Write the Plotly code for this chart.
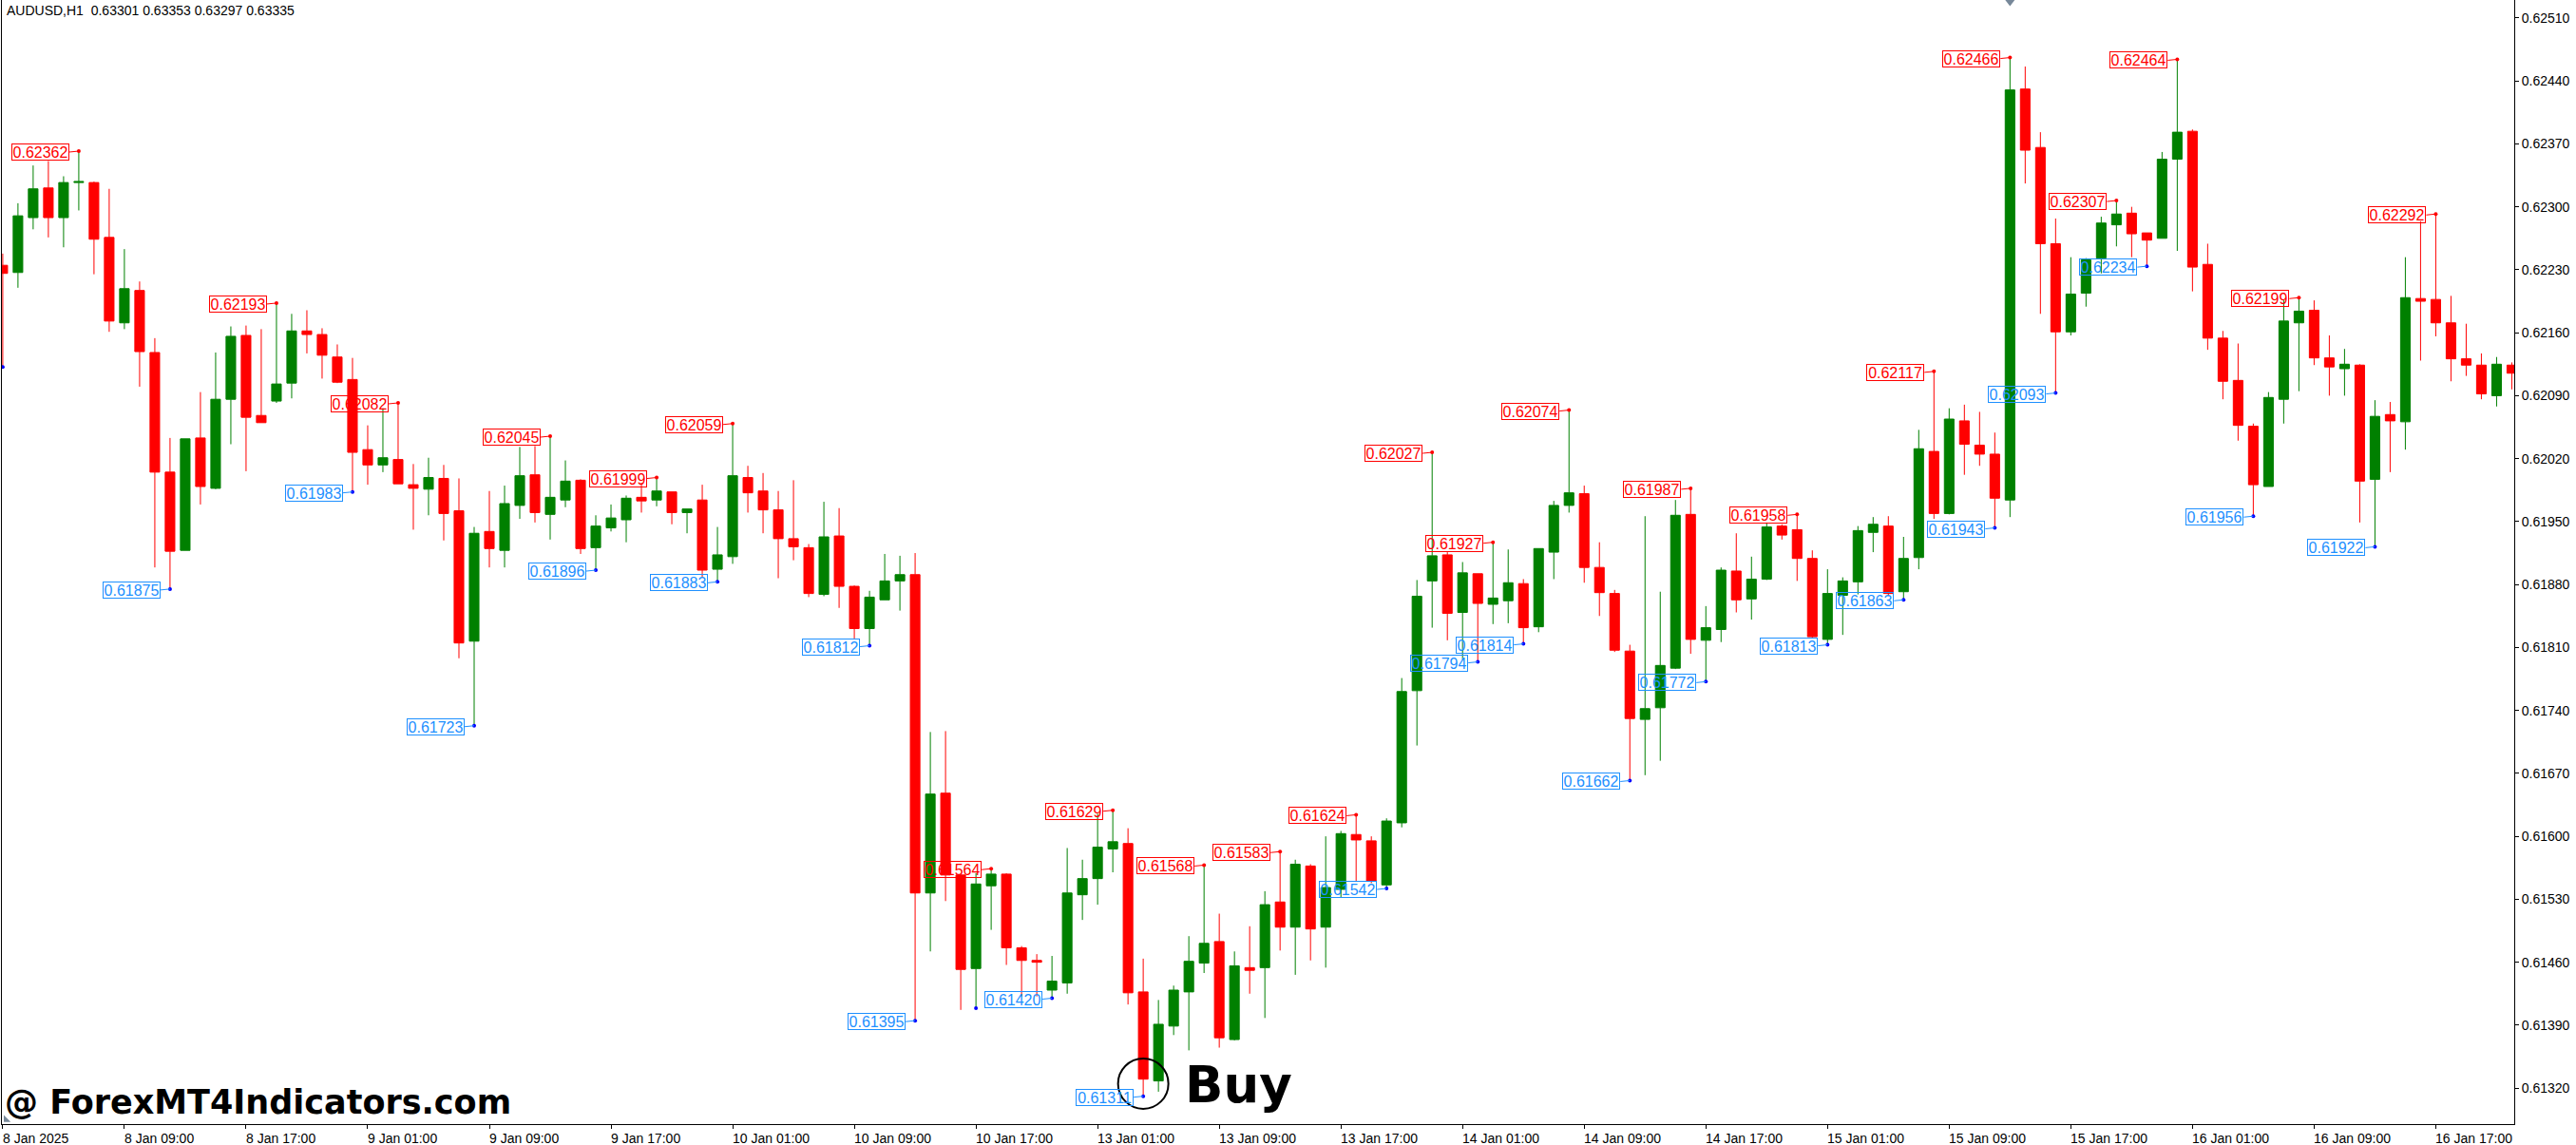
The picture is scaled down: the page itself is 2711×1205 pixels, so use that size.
import plotly.graph_objects as go

# H1 candles, in 1/100000 of a price unit
opens = [62235, 62227, 62288, 62321, 62288, 62327, 62327, 62266, 62171, 62207, 62138, 62005, 61918, 62043, 61987, 62086,
         62157, 62068, 62084, 62104, 62162, 62158, 62133, 62108, 62030, 62013, 62019, 61991, 61986, 61998, 61962, 61817,
         61939, 61918, 61968, 62002, 61958, 61974, 61996, 61921, 61943, 61952, 61977, 61974, 61983, 61960, 61974, 61897,
         61911, 61999, 61984, 61963, 61931, 61921, 61869, 61934, 61878, 61831, 61863, 61884, 61891, 61537, 61648, 61557,
         61453, 61545, 61558, 61476, 61462, 61429, 61437, 61535, 61553, 61586, 61592, 61427, 61328, 61389, 61427, 61459,
         61483, 61374, 61454, 61454, 61527, 61499, 61567, 61499, 61541, 61602, 61595, 61546, 61615, 61762, 61884, 61913,
         61849, 61892, 61858, 61862, 61881, 61833, 61916, 61968, 61981, 61899, 61870, 61806, 61730, 61743, 61787, 61958,
         61818, 61830, 61895, 61864, 61886, 61945, 61941, 61909, 61819, 61868, 61883, 61938, 61945, 61872, 61910, 62028,
         61959, 62062, 62035, 62025, 61974, 62431, 62366, 62259, 62161, 62204, 62243, 62280, 62293, 62271, 62265, 62353,
         62384, 62236, 62154, 62107, 62056, 61989, 62086, 62171, 62185, 62132, 62120, 62124, 61997, 62069, 62061, 62198,
         62197, 62171, 62131, 62124, 62090, 62124]
highs = [62248, 62304, 62346, 62351, 62334, 62362, 62328, 62320, 62253, 62217, 62154, 62043, 62042, 62094, 62138, 62167,
         62168, 62164, 62193, 62181, 62185, 62165, 62147, 62132, 62057, 62076, 62082, 62014, 62021, 62013, 61998, 61944,
         61984, 61990, 62033, 62034, 62045, 62018, 61997, 61957, 61969, 61979, 61993, 61999, 61983, 61964, 61991, 61944,
         62059, 62012, 62004, 61984, 61996, 61925, 61972, 61965, 61879, 61873, 61914, 61912, 61915, 61716, 61717, 61558,
         61559, 61564, 61559, 61478, 61469, 61467, 61587, 61574, 61625, 61629, 61609, 61464, 61418, 61434, 61489, 61568,
         61514, 61472, 61500, 61539, 61583, 61574, 61569, 61600, 61606, 61624, 61600, 61620, 61776, 61885, 62027, 61916,
         61905, 61892, 61927, 61919, 61886, 61920, 61973, 62074, 61990, 61927, 61874, 61813, 61956, 61872, 61974, 61987,
         61856, 61899, 61937, 61911, 61949, 61947, 61958, 61918, 61897, 61888, 61945, 61955, 61956, 61933, 62052, 62117,
         62076, 62080, 62072, 62049, 62466, 62456, 62383, 62287, 62244, 62243, 62289, 62307, 62300, 62271, 62361, 62464,
         62386, 62259, 62162, 62148, 62059, 62094, 62196, 62199, 62196, 62157, 62142, 62125, 62085, 62083, 62244, 62284,
         62292, 62201, 62170, 62137, 62133, 62127]
lows = [62122, 62210, 62275, 62266, 62255, 62296, 62225, 62161, 62164, 62100, 61899, 61875, 61918, 61969, 61986, 62036,
        62006, 62060, 62082, 62087, 62137, 62109, 62104, 61983, 61991, 62005, 61992, 61941, 61957, 61929, 61798, 61723,
        61899, 61899, 61953, 61949, 61930, 61966, 61914, 61896, 61939, 61927, 61960, 61967, 61947, 61937, 61888, 61883,
        61903, 61960, 61937, 61887, 61907, 61866, 61867, 61854, 61820, 61812, 61863, 61851, 61395, 61472, 61528, 61407,
        61409, 61496, 61457, 61422, 61422, 61420, 61425, 61507, 61524, 61560, 61413, 61311, 61316, 61379, 61362, 61448,
        61365, 61373, 61425, 61398, 61473, 61446, 61462, 61454, 61532, 61550, 61548, 61542, 61610, 61701, 61832, 61818,
        61796, 61794, 61836, 61837, 61814, 61827, 61886, 61960, 61882, 61845, 61805, 61662, 61668, 61684, 61786, 61803,
        61772, 61816, 61849, 61841, 61885, 61930, 61884, 61820, 61813, 61824, 61869, 61916, 61867, 61863, 61897, 61953,
        61958, 62002, 62012, 61943, 61955, 62326, 62181, 62093, 62157, 62189, 62226, 62256, 62244, 62234, 62265, 62251,
        62206, 62141, 62086, 62040, 61956, 61989, 62059, 62095, 62124, 62090, 62090, 61949, 61922, 62005, 62030, 62129,
        62156, 62106, 62112, 62086, 62078, 62097]
closes = [62226, 62290, 62320, 62288, 62327, 62328, 62264, 62173, 62209, 62139, 62005, 61917, 62042, 61989, 62086, 62156,
          62066, 62060, 62103, 62162, 62158, 62135, 62105, 62027, 62013, 62021, 61992, 61987, 61999, 61959, 61815, 61937,
          61920, 61970, 62001, 61960, 61977, 61995, 61920, 61945, 61954, 61976, 61973, 61984, 61960, 61964, 61896, 61913,
          62001, 61982, 61963, 61931, 61922, 61870, 61933, 61878, 61831, 61866, 61884, 61891, 61537, 61647, 61557, 61452,
          61547, 61558, 61476, 61462, 61460, 61439, 61537, 61553, 61588, 61594, 61426, 61330, 61391, 61429, 61461, 61481,
          61376, 61456, 61451, 61524, 61499, 61569, 61497, 61543, 61603, 61596, 61550, 61617, 61761, 61867, 61912, 61848,
          61893, 61859, 61865, 61882, 61832, 61920, 61968, 61982, 61899, 61871, 61807, 61731, 61742, 61790, 61957, 61819,
          61832, 61896, 61863, 61886, 61944, 61935, 61909, 61822, 61870, 61884, 61940, 61947, 61870, 61909, 62031, 61959,
          62064, 62036, 62025, 61976, 62430, 62363, 62259, 62161, 62203, 62241, 62282, 62292, 62270, 62263, 62353, 62383,
          62233, 62154, 62106, 62057, 61991, 62088, 62173, 62184, 62132, 62122, 62125, 61995, 62067, 62062, 62199, 62195,
          62171, 62131, 62124, 62092, 62125, 62115]
bars = list(range(len(opens)))

# Swing labels: bar number and price
high_bars = [5, 18, 26, 36, 43, 48, 65, 73, 79, 84, 89, 94, 98, 103, 111, 118, 127, 132, 139, 143, 151, 160]
high_vals = [62362, 62193, 62082, 62045, 61999, 62059, 61564, 61629, 61568, 61583, 61624, 62027, 61927, 62074,
             61987, 61958, 62117, 62466, 62307, 62464, 62199, 62292]
low_bars = [11, 23, 31, 39, 47, 57, 60, 69, 75, 91, 97, 100, 107, 112, 120, 125, 131, 135, 141, 148, 156]
low_vals = [61875, 61983, 61723, 61896, 61883, 61812, 61395, 61420, 61311, 61542, 61794, 61814, 61662, 61772,
            61813, 61863, 61943, 62093, 62234, 61956, 61922]
# Blue dots with no label next to them
extra_low_bars = [0, 64]
extra_low_vals = [62122, 61409]

# Axis labels
time_tick_bars = list(range(0, 161, 8))
time_tick_labels = ['8 Jan 2025', '8 Jan 09:00', '8 Jan 17:00', '9 Jan 01:00', '9 Jan 09:00', '9 Jan 17:00',
                    '10 Jan 01:00', '10 Jan 09:00', '10 Jan 17:00', '13 Jan 01:00', '13 Jan 09:00', '13 Jan 17:00',
                    '14 Jan 01:00', '14 Jan 09:00', '14 Jan 17:00', '15 Jan 01:00', '15 Jan 09:00', '15 Jan 17:00',
                    '16 Jan 01:00', '16 Jan 09:00', '16 Jan 17:00']
price_ticks = [0.62510, 0.62440, 0.62370, 0.62300, 0.62230, 0.62160, 0.62090, 0.62020, 0.61950, 0.61880, 0.61810,
               0.61740, 0.61670, 0.61600, 0.61530, 0.61460, 0.61390, 0.61320]

RED = '#FF0000'
GREEN = '#008000'
BLUE = '#1E90FF'
GRAY = '#778899'
X_RANGE = [-0.056, 165.16]
Y_RANGE = [0.61280, 0.62530]


def price(points):
    return [p / 100000 for p in points]


fig = go.Figure()

fig.add_trace(go.Candlestick(
    x=bars,
    open=price(opens),
    high=price(highs),
    low=price(lows),
    close=price(closes),
    increasing=dict(line=dict(color=GREEN, width=1), fillcolor=GREEN),
    decreasing=dict(line=dict(color=RED, width=1), fillcolor=RED),
    whiskerwidth=0,
    showlegend=False
))

# Swing dots
fig.add_trace(go.Scatter(x=high_bars, y=price(high_vals), mode='markers', showlegend=False,
                         marker=dict(color='#FF0000', size=4)))
fig.add_trace(go.Scatter(x=low_bars + extra_low_bars, y=price(low_vals + extra_low_vals), mode='markers',
                         showlegend=False, marker=dict(color='#0000FF', size=4)))

# Little gray chart markers at the top and in the bottom left corner
fig.add_trace(go.Scatter(x=[132], y=[Y_RANGE[1]], mode='markers', showlegend=False,
                         marker=dict(color=GRAY, size=13, symbol='triangle-down')))
fig.add_trace(go.Scatter(x=[0.22], y=[0.61285], mode='markers', showlegend=False,
                         marker=dict(color=GRAY, size=8, symbol='triangle-sw')))

annotations = []


def swing_label(bar, value, color):
    annotations.append(dict(
        x=bar, y=value / 100000, xref='x', yref='y',
        text=f'{value / 100000:.5f}',
        font=dict(family='Liberation Sans', size=16, color=color),
        showarrow=True, arrowhead=0, arrowwidth=1, arrowcolor=color, standoff=0,
        ax=-10, ay=1, xanchor='right', yanchor='middle',
        bordercolor=color, borderwidth=1, borderpad=0,
        width=59, height=16, align='center'
    ))


for b, v in zip(high_bars, high_vals):
    swing_label(b, v, RED)
for b, v in zip(low_bars, low_vals):
    swing_label(b, v, BLUE)

# Time labels start at their tick instead of being centred on it
for b, label in zip(time_tick_bars, time_tick_labels):
    annotations.append(dict(
        x=b, y=0, xref='x', yref='paper', text=label, showarrow=False,
        xanchor='left', yanchor='top', xshift=-2, yshift=-5,
        font=dict(family='Liberation Sans', size=14, color='black')
    ))

annotations.append(dict(
    x=0, y=1, xref='paper', yref='paper', xanchor='left', yanchor='top', xshift=3, yshift=-1,
    text='AUDUSD,H1\u00a0\u00a00.63301 0.63353 0.63297 0.63335', showarrow=False,
    font=dict(family='Liberation Sans', size=14, color='black')
))
annotations.append(dict(
    x=0, y=0.61320, xref='x', yref='y', xanchor='left', yanchor='middle', yshift=-15,
    text='@ ForexMT4Indicators.com', showarrow=False,
    font=dict(family='DejaVu Sans', size=35, color='black', weight='bold')
))
annotations.append(dict(
    x=77.6, y=0.61320, xref='x', yref='y', xanchor='left', yanchor='middle', yshift=4,
    text='Buy', showarrow=False,
    font=dict(family='DejaVu Sans', size=53, color='black', weight='bold')
))

fig.update_layout(
    width=2711,
    height=1205,
    margin=dict(l=2, r=65, t=0, b=22),
    plot_bgcolor='white',
    paper_bgcolor='white',
    showlegend=False,
    boxgap=0.1,
    annotations=annotations,
    xaxis=dict(
        range=X_RANGE,
        rangeslider=dict(visible=False),
        showgrid=False,
        zeroline=False,
        showline=True,
        linecolor='black',
        linewidth=1,
        tickmode='array',
        tickvals=time_tick_bars,
        showticklabels=False,
        ticks='outside',
        ticklen=4,
        tickcolor='black'
    ),
    yaxis=dict(
        range=Y_RANGE,
        side='right',
        showgrid=False,
        zeroline=False,
        showline=True,
        mirror=True,
        linecolor='black',
        linewidth=1,
        tickmode='array',
        tickvals=price_ticks,
        tickformat='.5f',
        ticks='outside',
        ticklen=4,
        tickcolor='black',
        tickfont=dict(family='Liberation Sans', size=14, color='black')
    ),
    # Circle round the buy candle
    shapes=[dict(
        type='circle', xref='x', yref='y', xsizemode='pixel', ysizemode='pixel',
        xanchor=75, yanchor=0.61325, x0=-26.5, x1=26.5, y0=-26.5, y1=26.5,
        line=dict(color='black', width=2)
    )]
)

fig.write_html('out.html', config=dict(displayModeBar=False), post_script="document.body.style.margin='0';")
